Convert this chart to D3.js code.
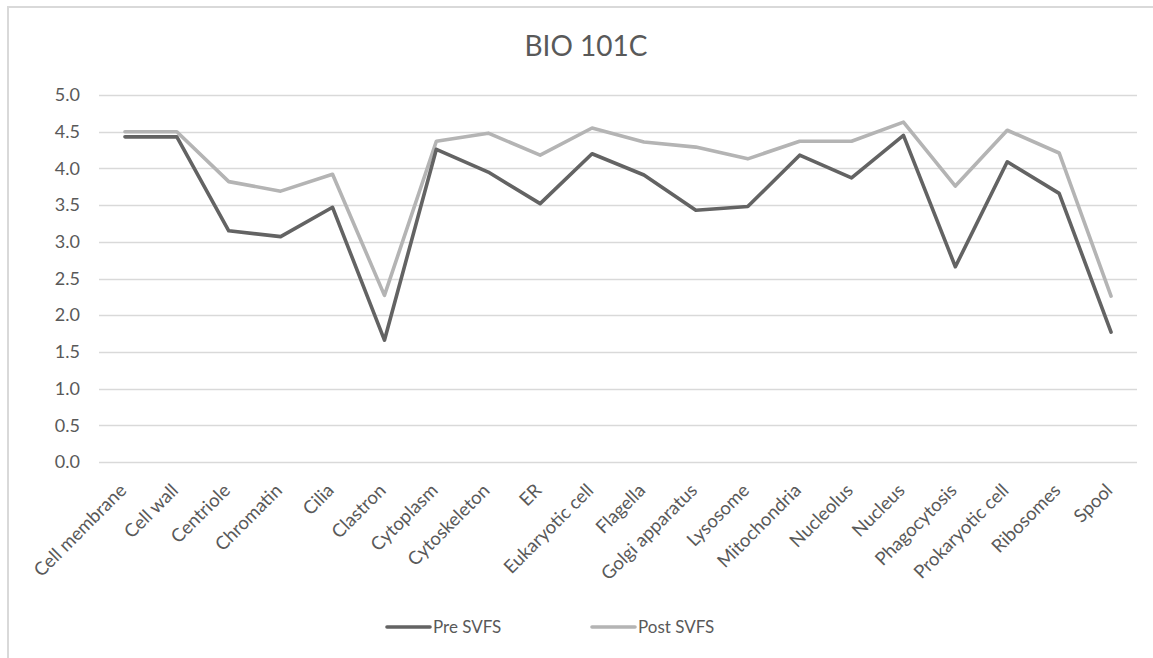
<!DOCTYPE html>
<html>
<head>
<meta charset="utf-8">
<script src="https://cdn.jsdelivr.net/npm/d3@7"></script>
<style>
  body { margin: 0; background: #fff; }
  text { font-family: Lato, "Open Sans", sans-serif; fill: #595959; }
</style>
</head>
<body>
<div id="chart"></div>
<script>
var categories = ["Cell membrane", "Cell wall", "Centriole", "Chromatin", "Cilia", "Clastron",
  "Cytoplasm", "Cytoskeleton", "ER", "Eukaryotic cell", "Flagella", "Golgi apparatus",
  "Lysosome", "Mitochondria", "Nucleolus", "Nucleus", "Phagocytosis", "Prokaryotic cell",
  "Ribosomes", "Spool"];
var preValues = [4.43, 4.43, 3.15, 3.07, 3.47, 1.66, 4.26, 3.95, 3.52, 4.20,
  3.91, 3.43, 3.48, 4.18, 3.87, 4.45, 2.66, 4.09, 3.66, 1.77];
var postValues = [4.50, 4.50, 3.82, 3.69, 3.92, 2.27, 4.37, 4.48, 4.18, 4.55,
  4.36, 4.29, 4.13, 4.37, 4.37, 4.63, 3.76, 4.52, 4.21, 2.26];
var yTicks = [0, 0.5, 1, 1.5, 2, 2.5, 3, 3.5, 4, 4.5, 5];
var seriesNames = ["Pre SVFS", "Post SVFS"];
var seriesColors = ["#636363", "#b4b4b4"];

var width = 1153, height = 658;
var plot = {left: 99, right: 1137, top: 95, bottom: 462};

var svg = d3.select("#chart").append("svg")
  .attr("width", width)
  .attr("height", height);

// chart border (right and bottom edges fall outside the picture)
svg.append("rect")
  .attr("x", 8).attr("y", 7)
  .attr("width", 1160).attr("height", 670)
  .attr("fill", "#fff")
  .attr("stroke", "#d9d9d9")
  .attr("stroke-width", 2);

var x = d3.scaleBand()
  .domain(categories)
  .range([plot.left, plot.right]);

var y = d3.scaleLinear()
  .domain([0, 5])
  .range([plot.bottom, plot.top]);

// gridlines
svg.append("g")
  .selectAll("line")
  .data(yTicks)
  .enter().append("line")
  .attr("x1", plot.left)
  .attr("x2", plot.right)
  .attr("y1", function(d) { return Math.round(y(d)) + 0.5; })
  .attr("y2", function(d) { return Math.round(y(d)) + 0.5; })
  .attr("stroke", "#d9d9d9")
  .attr("stroke-width", 1.3);

// y axis labels
var yAxis = d3.axisLeft(y)
  .tickValues(yTicks)
  .tickFormat(d3.format(".1f"))
  .tickSize(0)
  .tickPadding(0);

var yg = svg.append("g")
  .attr("transform", "translate(80,0)")
  .call(yAxis);
yg.select(".domain").remove();
yg.selectAll("text")
  .attr("font-size", "18px")
  .attr("font-family", "Lato, sans-serif")
  .attr("fill", "#595959");

// x axis labels, rotated -45
svg.append("g")
  .selectAll("text")
  .data(categories)
  .enter().append("text")
  .attr("text-anchor", "end")
  .attr("font-size", "18.5px")
  .attr("dy", "0.35em")
  .attr("transform", function(d) {
    return "translate(" + (x(d) + x.bandwidth() / 2 - 2) + "," + (plot.bottom + 25) + ") rotate(-45)";
  })
  .text(function(d) { return d; });

// lines
var line = d3.line()
  .x(function(d, i) { return x(categories[i]) + x.bandwidth() / 2; })
  .y(function(d) { return y(d); });

svg.append("g")
  .selectAll("path")
  .data([postValues, preValues])
  .enter().append("path")
  .attr("d", line)
  .attr("fill", "none")
  .attr("stroke", function(d) { return d === preValues ? seriesColors[0] : seriesColors[1]; })
  .attr("stroke-width", 3.6)
  .attr("stroke-linejoin", "round")
  .attr("stroke-linecap", "round");

// title
svg.append("text")
  .attr("x", 586)
  .attr("y", 56)
  .attr("text-anchor", "middle")
  .attr("font-size", "28px")
  .text("BIO 101C");

// legend
var legendX = [387, 592];
var legend = svg.append("g")
  .selectAll("g")
  .data(seriesNames)
  .enter().append("g")
  .attr("transform", function(d, i) { return "translate(" + legendX[i] + ",627)"; });

legend.append("line")
  .attr("x1", 0).attr("x2", 43)
  .attr("y1", 0).attr("y2", 0)
  .attr("stroke", function(d, i) { return seriesColors[i]; })
  .attr("stroke-width", 3.6)
  .attr("stroke-linecap", "round");

legend.append("text")
  .attr("x", 46)
  .attr("y", 6)
  .attr("font-size", "17px")
  .text(function(d) { return d; });
</script>
</body>
</html>
